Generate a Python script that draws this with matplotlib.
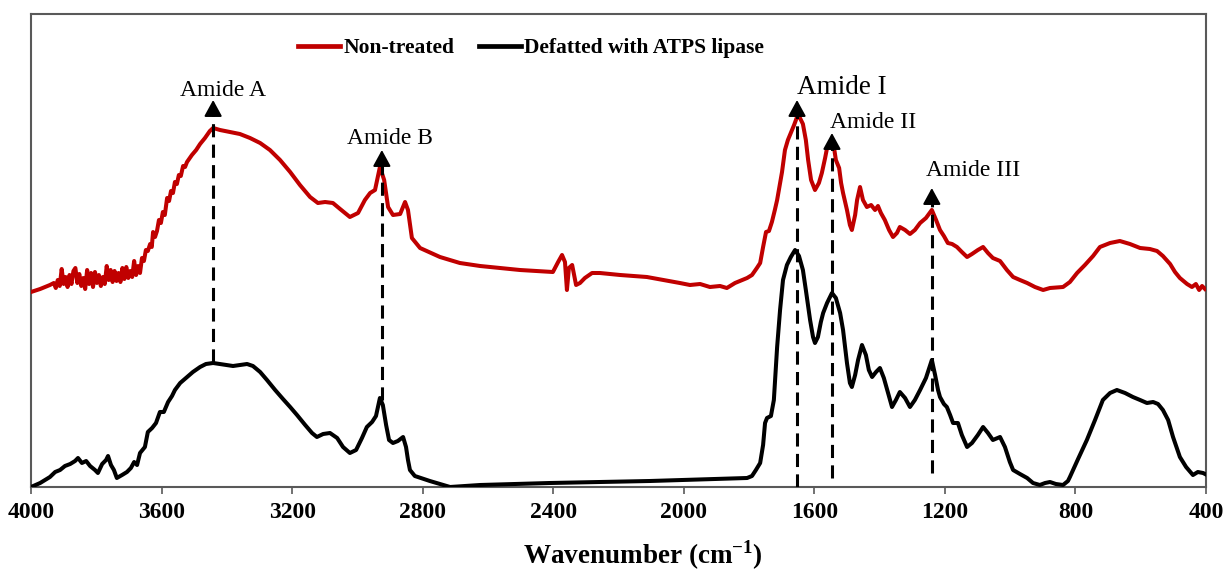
import matplotlib
matplotlib.use("Agg")
import matplotlib.pyplot as plt

plt.rcParams['font.family'] = ['Liberation Serif', 'DejaVu Serif']
plt.rcParams['mathtext.fontset'] = 'custom'
plt.rcParams['mathtext.rm'] = 'Liberation Serif'
plt.rcParams['mathtext.bf'] = 'Liberation Serif:bold'

# ---------------- data (wavenumber cm-1, absorbance a.u.) ----------------
nontreated_wn = [4000, 3972, 3942,
                 3930, 3924, 3918, 3912, 3906, 3900, 3894, 3888, 3882, 3876, 3870, 3864, 3858, 3852,
                 3846, 3840, 3834, 3828, 3822, 3816, 3810, 3804, 3798, 3792, 3786, 3780, 3774, 3768,
                 3762, 3756, 3750, 3744, 3738, 3732, 3726, 3720, 3714, 3708, 3702, 3696, 3690, 3684,
                 3678, 3672, 3666, 3660, 3654, 3648, 3642, 3635, 3630, 3626, 3620, 3614, 3608, 3602,
                 3596, 3590, 3583, 3577, 3571, 3565, 3559, 3553, 3547, 3541, 3534, 3528, 3522, 3507,
                 3494, 3482, 3467, 3452,
                 3442, 3421, 3390, 3360, 3329, 3298, 3268, 3237, 3206, 3176, 3145, 3121, 3099, 3075,
                 3053, 3023, 2998, 2977, 2961, 2946, 2931, 2918, 2906, 2891, 2869, 2854, 2845, 2833,
                 2808, 2747, 2686, 2624, 2563, 2502, 2401, 2385, 2373, 2364, 2358, 2352, 2342, 2330,
                 2318, 2303, 2281, 2257, 2195, 2113, 2012, 1981, 1950, 1920, 1889, 1868, 1843, 1806,
                 1791, 1776, 1766, 1757, 1748, 1739, 1730, 1721, 1714, 1705, 1699, 1690, 1681, 1672,
                 1662, 1653, 1644, 1635, 1626, 1619, 1610, 1598, 1586, 1577, 1567, 1561, 1549, 1540,
                 1534, 1524, 1518, 1512, 1500, 1491, 1485, 1475, 1469, 1460, 1451, 1439, 1426, 1414,
                 1405, 1396, 1384, 1371, 1359, 1347, 1338, 1322, 1307, 1292, 1276, 1258, 1240, 1227,
                 1215, 1203, 1191, 1178, 1163, 1148, 1132, 1117, 1099, 1083, 1068, 1053, 1031, 1010,
                 991, 970, 948, 924, 899, 878, 838, 817, 795, 771, 746, 725, 694, 664, 633, 602, 572,
                 550, 532, 510, 495, 480, 458, 443, 431, 421, 412, 403]
nontreated_abs = [195, 198, 202,
                  204, 199, 207, 201, 218, 203, 210, 200, 212, 203, 216, 219, 204, 213,
                  201, 209, 198, 217, 203, 214, 200, 215, 204, 212, 201, 210, 203, 221,
                  207, 217, 205, 216, 206, 214, 205, 219, 208, 220, 209, 216, 210, 226,
                  212, 221, 214, 229, 226, 237, 236, 243, 240, 255, 250, 256, 267, 264,
                  275, 272, 289, 286, 296, 294, 305, 303, 312, 311, 321, 320, 325, 332,
                  337, 343, 349, 356,
                  359, 357, 355, 353, 349, 344, 337, 327, 315, 302, 290, 284, 285, 284,
                  278, 270, 274, 287, 294, 297, 320, 307, 280, 272, 273, 285, 277, 249,
                  239, 230, 224, 221, 219, 217, 215, 225, 232, 225, 197, 219, 222, 202,
                  204, 209, 214, 214, 212, 210, 204, 202, 203, 200, 201, 199, 204, 209,
                  212, 219, 224, 240, 255, 256, 265, 277, 287, 304, 315, 337, 347, 354,
                  362, 370, 369, 363, 347, 327, 307, 297, 304, 314, 329, 339, 341, 340,
                  327, 319, 304, 294, 277, 262, 257, 272, 287, 300, 287, 280, 282, 277,
                  281, 274, 267, 257, 250, 254, 260, 257, 253, 257, 264, 269, 277, 267,
                  257, 251, 244, 243, 240, 235, 230, 233, 237, 240, 234, 229, 226, 217,
                  210, 207, 204, 200, 197, 199, 200, 205, 214, 222, 231, 240, 244, 246, 243, 239, 238,
                  236, 231, 223, 215, 209, 203, 200, 203, 197, 201, 198]

defatted_wn = [4000, 3972, 3942, 3926, 3911, 3896, 3880, 3865, 3856, 3844, 3831, 3819, 3804, 3795,
               3782, 3770, 3764, 3755, 3746, 3737, 3721, 3706, 3694, 3684, 3675, 3666, 3651, 3642,
               3629, 3617, 3605, 3593, 3580, 3568, 3559, 3543, 3522, 3504, 3482, 3464, 3442, 3421,
               3400, 3381, 3360, 3338, 3320, 3298, 3277, 3252, 3228, 3206, 3185, 3160, 3139, 3124,
               3105, 3084, 3062, 3044, 3023, 3004, 2986, 2971, 2955, 2943, 2931, 2922, 2912, 2903,
               2891, 2876, 2860, 2851, 2845, 2839, 2824, 2778, 2716, 2624, 2410, 2104, 1806, 1791,
               1779, 1766, 1757, 1751, 1745, 1733, 1724, 1714, 1705, 1696, 1684, 1672, 1659, 1647,
               1635, 1626, 1613, 1604, 1598, 1589, 1580, 1573, 1561, 1546, 1534, 1521, 1512, 1500,
               1491, 1485, 1475, 1466, 1454, 1442, 1433, 1423, 1411, 1399, 1387, 1374, 1362, 1350,
               1338, 1322, 1307, 1292, 1276, 1258, 1240, 1230, 1221, 1215, 1203, 1194, 1184, 1175,
               1160, 1148, 1132, 1117, 1099, 1083, 1068, 1053, 1031, 1016, 1001, 991, 970, 948,
               930, 909, 893, 878, 860, 838, 823, 817, 792, 765, 740, 716, 694, 673, 648, 624,
               602, 581, 562, 547, 532, 516, 501, 480, 461, 440, 425, 409, 403]
defatted_abs = [0, 4, 10, 15, 17, 21, 23, 26, 29, 24, 26, 21, 17, 14,
                23, 27, 31, 22, 17, 9, 12, 15, 19, 25, 22, 34, 40, 55,
                59, 64, 75, 75, 85, 91, 97, 104, 110, 115, 120, 123, 124, 123,
                122, 121, 122, 123, 121, 115, 107, 97, 88, 80, 72, 62, 54, 50,
                53, 54, 49, 40, 34, 37, 49, 60, 65, 71, 89, 82, 62, 47,
                44, 46, 50, 40, 27, 17, 11, 6, 0, 2, 4, 6, 9, 11,
                17, 24, 42, 64, 69, 71, 87, 140, 177, 207, 222, 230, 237, 231,
                217, 197, 167, 150, 144, 150, 165, 174, 184, 194, 189, 174, 157, 124,
                104, 100, 112, 127, 142, 132, 117, 110, 115, 119, 109, 94, 80, 87,
                95, 89, 80, 87, 97, 109, 127, 112, 97, 90, 83, 80, 72, 64,
                64, 52, 40, 44, 52, 60, 54, 47, 50, 40, 25, 17, 13, 9,
                4, 2, 4, 5, 3, 2, 6, 10, 28, 47, 67, 87, 94, 97, 94, 90,
                87, 84, 85, 83, 77, 67, 50, 30, 20, 12, 15, 14, 13]

band_labels = ["Amide A", "Amide B", "Amide I", "Amide II", "Amide III"]
band_wn = [3442, 2925, 1653, 1546, 1240]
band_line_bottom = [125, 87, 0, 9, 14]
band_arrow_tip = [387, 337, 387, 354, 299]
label_wn = [3412, 2900, 1515, 1420, 1114]
label_abs = [397, 349, 400, 365, 317]
label_size = [17, 17, 19.5, 17, 17]

xticks = [4000, 3600, 3200, 2800, 2400, 2000, 1600, 1200, 800, 400]

# ---------------- figure ----------------
fig = plt.figure(figsize=(12.23, 5.75), dpi=100)
ax = fig.add_axes([31 / 1223, 88 / 575, 1175 / 1223, 473 / 575])

red = '#C00000'
ax.plot(nontreated_wn, nontreated_abs, color=red, lw=2.9, label='Non-treated',
        solid_joinstyle='round', zorder=3)
ax.plot(defatted_wn, defatted_abs, color='black', lw=2.9, label='Defatted with ATPS lipase',
        solid_joinstyle='round', zorder=3)

head = 13
for lab, x, b, t, lx, ly, fs in zip(band_labels, band_wn, band_line_bottom, band_arrow_tip,
                                    label_wn, label_abs, label_size):
    ax.plot([x, x], [b, t - head + 2], color='black', lw=2.2,
            linestyle=(0, (4.3, 2.4)), zorder=4)
    ax.annotate('', xy=(x, t), xytext=(x, t - head),
                arrowprops=dict(arrowstyle='-|>,head_width=0.3,head_length=0.55',
                                color='black', lw=1.5, shrinkA=0, shrinkB=0,
                                mutation_scale=18), zorder=5)
    ax.text(lx, ly, lab, fontsize=fs, ha='center', va='center', color='black')

ax.set_xlim(4000, 400)
ax.set_ylim(0, 473)
ax.set_xticks(xticks)
ax.set_xticklabels([str(v) for v in xticks], fontsize=17, fontweight='bold')
ax.set_yticks([])
ax.tick_params(axis='x', direction='out', length=5, width=1.2, color='#595959', pad=6)
for s in ax.spines.values():
    s.set_color('#595959')
    s.set_linewidth(1.5)

fig.text(643 / 1223, 1 - 555 / 575, r'Wavenumber (cm$^{\mathbf{-1}}$)', fontsize=19.5,
         fontweight='bold', ha='center', va='center')

leg = ax.legend(loc='center', bbox_to_anchor=(0.4255, 0.928), ncol=2, frameon=False,
                prop={'weight': 'bold', 'size': 15.5}, handlelength=1.95,
                handletextpad=0.15, columnspacing=1.15, borderaxespad=0)
for line in leg.get_lines():
    line.set_linewidth(3.4)

fig.savefig('out.png', dpi=100)
